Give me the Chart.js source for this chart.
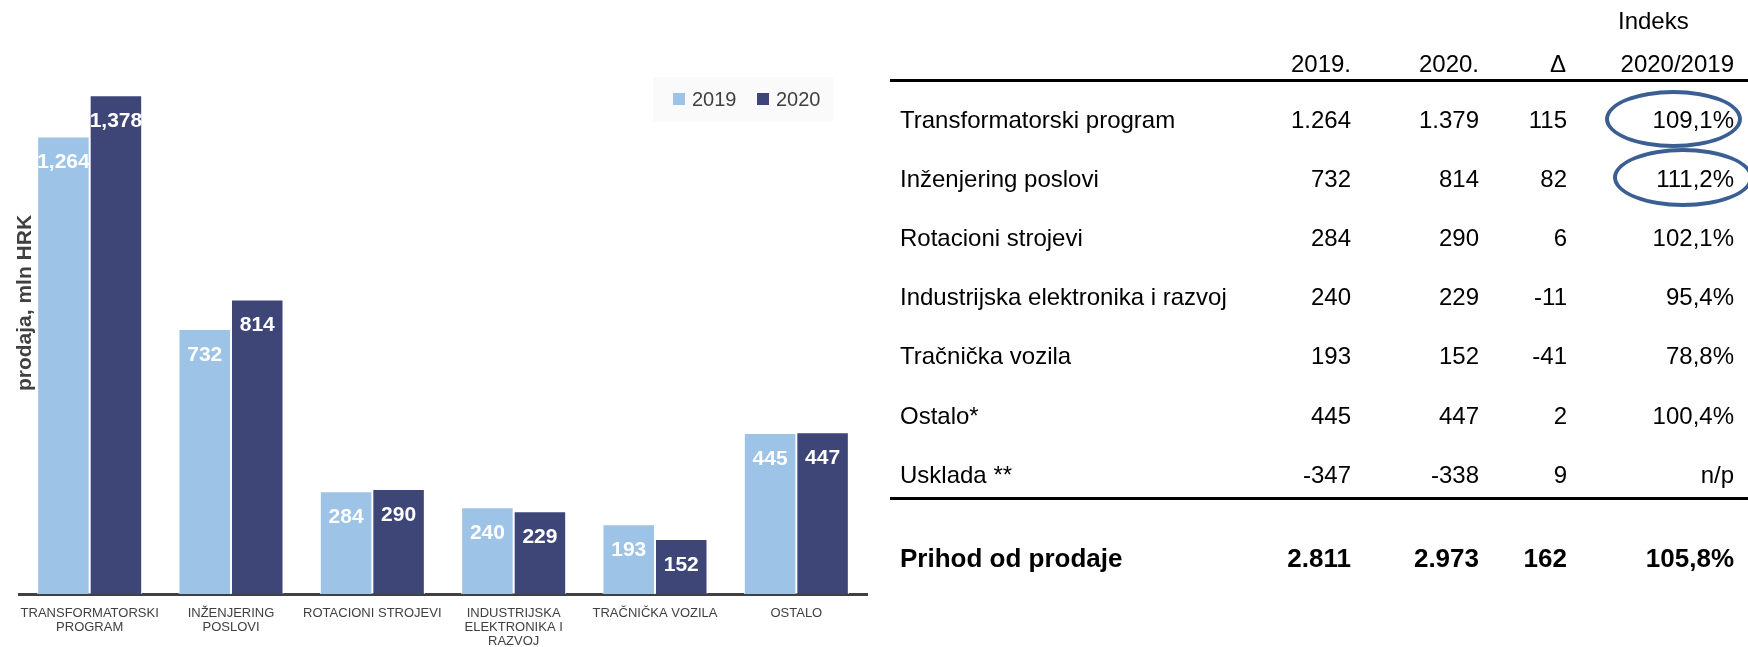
<!DOCTYPE html>
<html><head><meta charset="utf-8">
<script src="https://cdn.jsdelivr.net/npm/chart.js@4.4.0/dist/chart.umd.min.js"></script>
<style>
html,body{margin:0;padding:0;background:#fff;overflow:hidden;width:1748px;height:647px;}
#chartBox{position:absolute;left:0;top:0;width:880px;height:661px;}
#tbl{position:absolute;left:0;top:0;width:1748px;height:647px;font-family:"Liberation Sans",Arial,sans-serif;font-size:24px;color:#000;pointer-events:none;}
.c{position:absolute;white-space:nowrap;line-height:1;transform:translateY(-50%);}
.ctr{transform:translate(-50%,-50%);}
.b{font-weight:bold;font-size:26px;}
.rule{position:absolute;height:3px;background:#000;}
.ell{position:absolute;border:4px solid #3B5F93;border-radius:50%;box-sizing:border-box;}
</style></head><body>
<div id="chartBox"><canvas id="c"></canvas></div>
<div id="tbl"></div>
<script>
// ---- chart data ----
const categories = [["TRANSFORMATORSKI","PROGRAM"],["INŽENJERING","POSLOVI"],"ROTACIONI STROJEVI",["INDUSTRIJSKA","ELEKTRONIKA I","RAZVOJ"],"TRAČNIČKA VOZILA","OSTALO"];
const seriesNames = ["2019","2020"];
const sales2019 = [1264, 732, 284, 240, 193, 445];
const sales2020 = [1378, 814, 290, 229, 152, 447];
const yAxisTitle = "prodaja, mln HRK";

// ---- table data ----
const tableTopHeader = "Indeks";
const tableHeader = ["2019.", "2020.", "Δ", "2020/2019"];
const rowLabels = ["Transformatorski program","Inženjering poslovi","Rotacioni strojevi","Industrijska elektronika i razvoj","Tračnička vozila","Ostalo*","Usklada **"];
const tbl2019 = ["1.264","732","284","240","193","445","-347"];
const tbl2020 = ["1.379","814","290","229","152","447","-338"];
const tblDelta = ["115","82","6","-11","-41","2","9"];
const tblIndex = ["109,1%","111,2%","102,1%","95,4%","78,8%","100,4%","n/p"];
const totalRow = ["Prihod od prodaje","2.811","2.973","162","105,8%"];
const highlightedRows = [0, 1];

const FONT = '"Liberation Sans", Arial, sans-serif';
const C2019 = '#9DC3E6', C2020 = '#3D4677';

const overlay = {
  id: 'overlay',
  afterDatasetsDraw(chart) {
    const ctx = chart.ctx;
    ctx.save();
    ctx.font = 'bold 21px ' + FONT;
    ctx.fillStyle = '#ffffff';
    ctx.textAlign = 'center';
    ctx.textBaseline = 'middle';
    chart.data.datasets.forEach((ds, i) => {
      chart.getDatasetMeta(i).data.forEach((bar, j) => {
        ctx.fillText(ds.data[j].toLocaleString('en-US'), bar.x, bar.y + 26);
      });
    });
    // y-axis title
    ctx.save();
    ctx.translate(25, 303);
    ctx.rotate(-Math.PI / 2);
    ctx.font = 'bold 21px ' + FONT;
    ctx.fillStyle = '#404040';
    ctx.fillText(yAxisTitle, 0, 0);
    ctx.restore();
    // legend
    ctx.fillStyle = '#fafafa';
    ctx.fillRect(653, 77, 180, 45);
    ctx.font = '20px ' + FONT;
    ctx.textAlign = 'left';
    const lx = [673, 757];
    chart.data.datasets.forEach((ds, i) => {
      ctx.fillStyle = ds.backgroundColor;
      ctx.fillRect(lx[i], 93, 12, 12);
      ctx.fillStyle = '#404040';
      ctx.fillText(ds.label, lx[i] + 19, 100);
    });
    ctx.restore();
  }
};

new Chart(document.getElementById('c'), {
  type: 'bar',
  data: {
    labels: categories,
    datasets: [
      { label: seriesNames[0], data: sales2019, backgroundColor: C2019, borderColor: 'rgba(255,255,255,0.9)', borderWidth: 1 },
      { label: seriesNames[1], data: sales2020, backgroundColor: C2020, borderColor: 'rgba(255,255,255,0.9)', borderWidth: 1 }
    ]
  },
  options: {
    responsive: true, maintainAspectRatio: false, animation: false,
    layout: { padding: { left: 19, right: 13, top: 33, bottom: 0 } },
    plugins: { legend: { display: false }, tooltip: { enabled: false } },
    datasets: { bar: { categoryPercentage: 0.743, barPercentage: 1 } },
    scales: {
      x: {
        grid: { display: false, drawTicks: false },
        border: { display: true, color: '#404040', width: 3 },
        ticks: { color: '#404040', font: { family: FONT, size: 13, lineHeight: 1.1 }, padding: 12, maxRotation: 0, autoSkip: false }
      },
      y: { display: false, min: 0, max: 1550 }
    }
  },
  plugins: [overlay]
});

// ---- table ----
const tbl = document.getElementById('tbl');
function cell(text, x, y, mode, bold) {
  const d = document.createElement('div');
  d.className = 'c' + (mode === 'center' ? ' ctr' : '') + (bold ? ' b' : '');
  d.textContent = text;
  d.style.top = y + 'px';
  if (mode === 'right') d.style.right = (1748 - x) + 'px';
  else d.style.left = x + 'px';
  tbl.appendChild(d);
}
const LX = 900, R19 = 1351, R20 = 1479, DR = 1567, RI = 1734;
cell(tableTopHeader, 1618, 21, 'left');
cell(tableHeader[0], R19, 64, 'right');
cell(tableHeader[1], R20, 64, 'right');
cell(tableHeader[2], 1558, 64, 'center');
cell(tableHeader[3], 1734, 64, 'right');
const rule1 = document.createElement('div'); rule1.className = 'rule';
rule1.style.cssText = 'left:890px;width:858px;top:79px;'; tbl.appendChild(rule1);
rowLabels.forEach((lab, i) => {
  const y = 120 + 59.1 * i;
  cell(lab, LX, y, 'left');
  cell(tbl2019[i], R19, y, 'right');
  cell(tbl2020[i], R20, y, 'right');
  cell(tblDelta[i], DR, y, 'right');
  cell(tblIndex[i], RI, y, 'right');
});
const rule2 = document.createElement('div'); rule2.className = 'rule';
rule2.style.cssText = 'left:890px;width:858px;top:497px;'; tbl.appendChild(rule2);
cell(totalRow[0], LX, 558, 'left', true);
cell(totalRow[1], R19, 558, 'right', true);
cell(totalRow[2], R20, 558, 'right', true);
cell(totalRow[3], DR, 558, 'right', true);
cell(totalRow[4], RI, 558, 'right', true);
// highlight ellipses
const ellBoxes = [[1605, 90, 137, 58], [1613, 148, 140, 59]];
highlightedRows.forEach((r, k) => {
  const e = document.createElement('div'); e.className = 'ell';
  const b = ellBoxes[k];
  e.style.cssText = `left:${b[0]}px;top:${b[1]}px;width:${b[2]}px;height:${b[3]}px;`;
  tbl.appendChild(e);
});
</script>
</body></html>
